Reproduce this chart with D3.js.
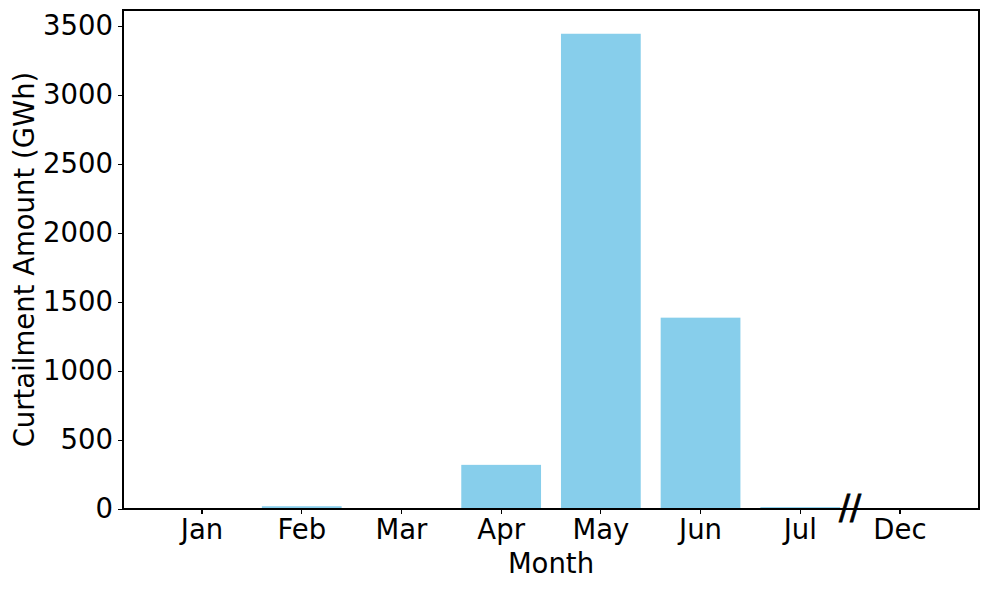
<!DOCTYPE html>
<html><head><meta charset="utf-8">
<script src="https://cdn.jsdelivr.net/npm/d3@7"></script>
<style>body{margin:0;background:#fff;} text{font-family:"DejaVu Sans",sans-serif;}</style>
</head><body>
<svg id="chart" width="989" height="590"></svg>
<script>
const months = ["Jan","Feb","Mar","Apr","May","Jun","Jul","Dec"];
const curtailment = [0, 20, 0, 320, 3445, 1387, 14, 0];
const yTicks = [0,500,1000,1500,2000,2500,3000,3500];

const FS = 27.5;
const svg = d3.select("#chart");
const mLeft = 123, mRight = 979, mTop = 10, mBottom = 509;

const x = d3.scaleBand().domain(months).range([mLeft, mRight]).paddingInner(0.2).paddingOuter(0.393);
const y = d3.scaleLinear().domain([0, 3445*1.05]).range([mBottom, mTop]);

svg.append("g").selectAll("rect").data(months).join("rect")
  .attr("x", d => x(d)).attr("width", x.bandwidth())
  .attr("y", (d,i) => y(curtailment[i])).attr("height", (d,i) => y(0) - y(curtailment[i]))
  .attr("fill", "#87CEEB");

const xAxis = svg.append("g").attr("transform", `translate(0,${mBottom})`)
  .call(d3.axisBottom(x).tickSize(5).tickPadding(5).tickSizeOuter(0));
const yAxis = svg.append("g").attr("transform", `translate(${mLeft},0)`)
  .call(d3.axisLeft(y).tickValues(yTicks).tickFormat(d3.format("d")).tickSize(5).tickPadding(5).tickSizeOuter(0));
[xAxis, yAxis].forEach(a => {
  a.select(".domain").remove();
  a.attr("font-size", FS).attr("font-family", "DejaVu Sans");
  a.selectAll("text").attr("fill", "#000");
  a.selectAll("line").attr("stroke", "#000").attr("stroke-width", 1.2).attr("shape-rendering", "crispEdges");
});

svg.append("rect").attr("x", mLeft).attr("y", mTop).attr("width", mRight-mLeft).attr("height", mBottom-mTop)
  .attr("fill", "none").attr("stroke", "#000").attr("stroke-width", 1.2).attr("shape-rendering", "crispEdges");

// axis break marker between Jul and Dec
const bx = (x("Jul") + x.bandwidth()/2 + x("Dec") + x.bandwidth()/2) / 2;
svg.append("text").attr("x", bx).attr("y", mBottom + 10)
  .attr("text-anchor", "middle").attr("font-size", 33)
  .attr("stroke", "#000").attr("stroke-width", 0.8).text("//");

svg.append("text").attr("x", (mLeft+mRight)/2).attr("y", 573).attr("text-anchor", "middle")
  .attr("font-size", FS).text("Month");
svg.append("text").attr("transform", `translate(34,${(mTop+mBottom)/2}) rotate(-90)`)
  .attr("text-anchor", "middle").attr("font-size", FS).text("Curtailment Amount (GWh)");
</script>
</body></html>
